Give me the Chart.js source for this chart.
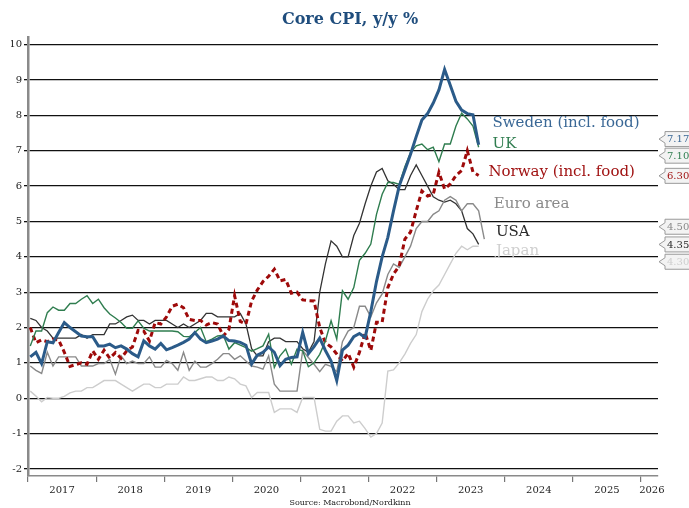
<!DOCTYPE html>
<html>
<head>
<meta charset="utf-8">
<script src="https://cdn.jsdelivr.net/npm/chart.js@4.4.1/dist/chart.umd.min.js"></script>
<style>
  html, body { margin: 0; background: #fff; }
  #wrap { width: 689px; height: 508px; }
</style>
</head>
<body>
<div id="wrap"><canvas id="chart"></canvas></div>
<script>
// monthly data, Jan 2017 onwards (y/y %)
const sweden = [
  1.17, 1.3, 0.98, 1.6, 1.57, 1.86, 2.14, 2.0, 1.88, 1.76, 1.74, 1.74,
  1.48, 1.48, 1.53, 1.43, 1.48, 1.39, 1.26, 1.17, 1.62, 1.48, 1.39, 1.55,
  1.37, 1.43, 1.5, 1.58, 1.67, 1.86, 1.67, 1.57, 1.62, 1.67, 1.76, 1.63,
  1.62, 1.58, 1.5, 0.97, 1.22, 1.3, 1.45, 1.3, 0.92, 1.1, 1.15, 1.17,
  1.86, 1.26, 1.46, 1.7, 1.35, 1.05, 0.5, 1.36, 1.5, 1.74, 1.83, 1.72,
  2.45, 3.3, 4.0, 4.55, 5.3, 6.0, 6.45, 6.9, 7.4, 7.87, 8.05, 8.35,
  8.72, 9.3, 8.85, 8.4, 8.15, 8.05, 8.02, 7.17
];
const uk = [
  1.48, 1.9, 1.9, 2.42, 2.58, 2.49, 2.49, 2.68, 2.68, 2.8, 2.9, 2.68,
  2.8, 2.56, 2.38, 2.27, 2.14, 1.98, 1.98, 2.19, 1.98, 1.9, 1.9, 1.9,
  1.9, 1.9, 1.88, 1.75, 1.74, 1.86, 2.0, 1.6, 1.67, 1.76, 1.78, 1.39,
  1.57, 1.5, 1.43, 1.33, 1.4, 1.48, 1.81, 0.87, 1.2, 1.39, 0.96, 1.39,
  1.34, 0.89, 1.0, 1.24, 1.62, 2.19, 1.67, 3.04, 2.8, 3.13, 3.9, 4.1,
  4.36, 5.2, 5.77, 6.1, 6.1, 6.05, 6.55, 6.95, 7.14, 7.19, 7.03, 7.1,
  6.69, 7.19, 7.19, 7.7, 8.06, 7.9, 7.7, 7.1
];
const norway = [
  2.0, 1.57, 1.65, 1.6, 1.67, 1.65, 1.3, 0.9, 0.95, 1.0, 0.96, 1.34,
  1.1, 1.36, 1.13, 1.29, 1.13, 1.34, 1.45, 1.92, 1.9, 1.62, 2.14, 2.1,
  2.3, 2.6, 2.66, 2.56, 2.23, 2.2, 2.2, 2.07, 2.14, 2.1, 1.76, 1.95,
  2.9, 2.17, 2.1, 2.75, 3.06, 3.3, 3.45, 3.65, 3.32, 3.36, 2.97, 3.0,
  2.78, 2.76, 2.75, 2.0, 1.57, 1.45, 1.25, 1.05, 1.27, 0.88, 1.3, 1.85,
  1.35, 2.15, 2.15, 3.13, 3.51, 3.74, 4.5, 4.7, 5.3, 5.86, 5.72, 5.77,
  6.39, 5.92, 6.06, 6.3, 6.44, 7.0, 6.4, 6.3
];
const euroArea = [
  0.91, 0.79, 0.7, 1.3, 0.91, 1.17, 1.17, 1.17, 1.17, 0.91, 0.91, 0.91,
  0.98, 0.98, 1.1, 0.68, 1.2, 0.98, 1.05, 0.98, 0.98, 1.17, 0.88, 0.88,
  1.07, 0.98, 0.79, 1.3, 0.79, 1.05, 0.88, 0.88, 0.98, 1.1, 1.26, 1.26,
  1.1, 1.2, 1.05, 0.91, 0.88, 0.82, 1.2, 0.4, 0.2, 0.2, 0.2, 0.2,
  1.35, 1.15, 0.96, 0.75, 0.96, 0.9, 0.75, 1.6, 1.9, 2.0, 2.6, 2.6,
  2.3, 2.7, 2.95, 3.5, 3.8, 3.7, 4.0, 4.3, 4.8, 5.0, 5.0, 5.2,
  5.3, 5.6, 5.7, 5.6, 5.3, 5.5, 5.5, 5.3, 4.5
];
const usa = [
  2.26, 2.2, 2.0, 1.9, 1.7, 1.7, 1.7, 1.7, 1.7, 1.8, 1.7, 1.8,
  1.8, 1.8, 2.1, 2.1, 2.2, 2.3, 2.35, 2.2, 2.2, 2.1, 2.2, 2.2,
  2.2, 2.1, 2.0, 2.1, 2.0, 2.1, 2.2, 2.4, 2.4, 2.3, 2.3, 2.3,
  2.3, 2.4, 2.1, 1.4, 1.2, 1.2, 1.6, 1.7, 1.7, 1.6, 1.6, 1.6,
  1.4, 1.3, 1.6, 3.0, 3.8, 4.45, 4.3, 4.0, 4.0, 4.6, 4.95, 5.5,
  6.0, 6.4, 6.5, 6.15, 6.05, 5.9, 5.9, 6.3, 6.6, 6.3, 6.0, 5.7,
  5.6, 5.55, 5.6, 5.5, 5.3, 4.8, 4.65, 4.35
];
const japan = [
  0.2, 0.06, -0.1, 0.02, 0.0, 0.0, 0.05, 0.15, 0.2, 0.2, 0.3, 0.3,
  0.4, 0.5, 0.5, 0.5, 0.4, 0.3, 0.2, 0.3, 0.4, 0.4, 0.3, 0.3,
  0.4, 0.4, 0.4, 0.6, 0.5, 0.5, 0.55, 0.6, 0.6, 0.5, 0.5, 0.6,
  0.55, 0.4, 0.35, 0.02, 0.16, 0.16, 0.16, -0.4, -0.3, -0.3, -0.3, -0.4,
  0.02, 0.02, 0.02, -0.88, -0.93, -0.93, -0.65, -0.5, -0.5, -0.7, -0.65, -0.86,
  -1.1, -1.0, -0.7, 0.77, 0.8, 1.0, 1.25, 1.55, 1.8, 2.45, 2.8, 3.04,
  3.2, 3.5, 3.8, 4.1, 4.3, 4.2, 4.3, 4.3
];

const seriesNames = ["Sweden (incl. food)", "UK", "Norway (incl. food)", "Euro area", "USA", "Japan"];
const lastValues  = ["7.17", "7.10", "6.30", "4.50", "4.35", "4.30"];
const yTicks      = [-2, -1, 0, 1, 2, 3, 4, 5, 6, 7, 8, 9, 10];
const yearTicks   = [2017, 2018, 2019, 2020, 2021, 2022, 2023, 2024, 2025, 2026];

// styling / placement (not data)
const colors    = ["#2b5b89", "#2f7d4f", "#9e0a0a", "#8a8a8a", "#333333", "#cdcdcd"];
const textCols  = ["#3a6896", "#2f7d4f", "#a01212", "#8a8a8a", "#2a2a2a", "#cfcfcf"];
const nameSpots = [[2023.82, 7.79], [2023.82, 7.2], [2023.76, 6.4], [2023.84, 5.5], [2023.87, 4.7], [2023.87, 4.17]];
const tagSpots  = [7.33, 6.86, 6.29, 4.85, 4.35, 3.86];
const FONT = "'DejaVu Serif', 'Liberation Serif', serif";

const toPoints = arr => arr.map((v, i) => ({ x: 2017 + (i + 0.4) / 12, y: v }));
const allSeries = [sweden, uk, norway, euroArea, usa, japan];
const widths = [3, 1.4, 3, 1.4, 1.3, 1.4];

const datasets = allSeries.map((s, k) => ({
  label: seriesNames[k],
  data: toPoints(s),
  borderColor: colors[k],
  borderWidth: widths[k],
  borderDash: k === 2 ? [5, 3.5] : [],
  pointRadius: 0,
  tension: 0,
  fill: false
}));

const sideText = {
  id: "sideText",
  afterDatasetsDraw(chart) {
    const { ctx, chartArea: a, scales: { x, y } } = chart;
    ctx.save();
    ctx.font = "15px " + FONT;
    ctx.textBaseline = "middle";
    ctx.textAlign = "left";
    seriesNames.forEach((n, k) => {
      ctx.fillStyle = textCols[k];
      ctx.fillText(n, x.getPixelForValue(nameSpots[k][0]), y.getPixelForValue(nameSpots[k][1]));
    });
    // value tags on the right edge
    ctx.font = "10px " + FONT;
    lastValues.forEach((v, k) => {
      const yc = y.getPixelForValue(tagSpots[k]);
      const x0 = a.right + 1, bx = x0 + 6, h = 15;
      ctx.beginPath();
      ctx.moveTo(x0, yc);
      ctx.lineTo(bx, yc - 4);
      ctx.lineTo(bx, yc - h / 2);
      ctx.lineTo(bx + 40, yc - h / 2);
      ctx.lineTo(bx + 40, yc + h / 2);
      ctx.lineTo(bx, yc + h / 2);
      ctx.lineTo(bx, yc + 4);
      ctx.closePath();
      ctx.fillStyle = "#f3f3f3";
      ctx.fill();
      ctx.strokeStyle = "#9a9a9a";
      ctx.lineWidth = 1;
      ctx.stroke();
      ctx.fillStyle = textCols[k];
      ctx.fillText(v, bx + 2, yc + 0.5);
    });
    ctx.restore();
  }
};

new Chart(document.getElementById("chart"), {
  type: "line",
  data: { datasets },
  plugins: [sideText],
  options: {
    responsive: true,
    maintainAspectRatio: false,
    animation: false,
    devicePixelRatio: 1,
    layout: { padding: { left: 11, right: 0, top: 0, bottom: 0 } },
    plugins: {
      legend: { display: false },
      tooltip: { enabled: false },
      title: {
        display: true,
        text: "Core CPI, y/y %",
        color: "#1f4d7d",
        font: { family: FONT, size: 16, weight: "bold" },
        padding: { top: 10, bottom: 8.4 }
      },
      subtitle: {
        display: true,
        position: "bottom",
        text: "Source: Macrobond/Nordkinn",
        color: "#222",
        font: { family: FONT, size: 8 },
        padding: { top: 0, bottom: 0 }
      }
    },
    scales: {
      x: {
        type: "linear",
        min: 2017,
        max: 2026.25,
        afterBuildTicks: s => {
          const t = [];
          yearTicks.forEach(yr => {
            t.push({ value: yr });
            t.push({ value: yr < 2026 ? yr + 0.5 : yr + 0.16 });
          });
          s.ticks = t;
        },
        afterFit: s => { s.height = 22.4; },
        ticks: {
          autoSkip: false,
          maxRotation: 0,
          padding: 2,
          color: "#222",
          font: { family: FONT, size: 10 },
          callback: v => Number.isInteger(v) ? "" : String(Math.floor(v))
        },
        grid: {
          drawOnChartArea: false,
          drawTicks: true,
          tickLength: 6,
          color: c => (c.tick && Number.isInteger(c.tick.value)) ? "#777" : "rgba(0,0,0,0)",
          lineWidth: 1.2
        },
        border: { display: true, color: "#8a8a8a", width: 1.5 }
      },
      y: {
        min: -2.2,
        max: 10.2,
        afterBuildTicks: s => { s.ticks = yTicks.map(v => ({ value: v })); },
        afterFit: s => { s.width = 17; },
        ticks: {
          padding: 2,
          color: "#222",
          font: { family: FONT, size: 10 }
        },
        grid: {
          color: "#111",
          lineWidth: 1.3,
          tickLength: 4,
          tickColor: "#111"
        },
        border: { display: true, color: "#8a8a8a", width: 2.5 }
      },
      // empty right-hand strip that leaves room for the value tags
      yRight: {
        position: "right",
        min: -2.2,
        max: 10.2,
        afterFit: s => { s.width = 31; },
        ticks: { display: false },
        grid: { display: false, drawTicks: false },
        border: { display: false }
      }
    }
  }
});
</script>
</body>
</html>
